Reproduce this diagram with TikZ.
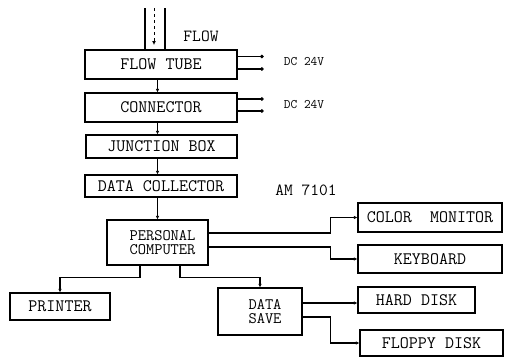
\documentclass[tikz,border=0pt]{standalone}
\usepackage{fontspec}
\usetikzlibrary{arrows.meta}
\tikzset{
  box/.style={draw, line width=1.2pt, rectangle, inner sep=0pt, font=\ttfamily\fontsize{17.5}{17.5}\selectfont},
  twoline/.style={box, align=center, font=\ttfamily\fontsize{16}{14.5}\selectfont},
  conn/.style={line width=1.2pt, -{Latex[length=3.5pt,width=3.5pt]}},
  plain/.style={line width=1.2pt},
  dcline/.style={line width=1.1pt, -{Circle[length=3.5pt]}},
  lbl/.style={inner sep=0pt, font=\ttfamily\fontsize{13}{13}\selectfont},
  biglbl/.style={inner sep=0pt, font=\ttfamily\fontsize{17}{17}\selectfont}
}
\begin{document}
\begin{tikzpicture}[x=1pt,y=-1pt]
\useasboundingbox (0,0) rectangle (506,357);
% boxes
\node[box, minimum width=152pt, minimum height=29pt] (tube) at (161,64.5) {FLOW TUBE};
\node[box, minimum width=152pt, minimum height=29pt] (cnn) at (161,107.5) {CONNECTOR};
\node[box, minimum width=151pt, minimum height=23pt] (junc) at (161.5,146.5) {JUNCTION BOX};
\node[box, minimum width=152pt, minimum height=22pt] (coll) at (161,186) {DATA COLLECTOR};
\node[twoline, minimum width=101pt, minimum height=45pt] (pc) at (157.5,242.5) {\hspace*{10pt}PERSONAL\\\hspace*{10pt}COMPUTER};
\node[box, minimum width=144pt, minimum height=29pt] (mon) at (430,217.5) {COLOR\ \ MONITOR};
\node[box, minimum width=144pt, minimum height=28pt] (key) at (430,259) {KEYBOARD};
\node[box, minimum width=100pt, minimum height=27pt] (prn) at (60,306.5) {PRINTER};
\node[twoline, minimum width=84pt, minimum height=47pt] (save) at (260,311.5) {\hspace*{10pt}DATA\\\hspace*{10pt}SAVE};
\node[box, minimum width=117pt, minimum height=26pt] (hard) at (416.5,300) {HARD DISK};
\node[box, minimum width=143pt, minimum height=26pt] (flop) at (431.5,343) {FLOPPY DISK};
% labels
\node[biglbl] (flowlbl) at (201,36.5) {FLOW};
\node[lbl] (dc1) at (304,62) {DC 24V};
\node[lbl] (dc2) at (304,105) {DC 24V};
\node[biglbl] (am) at (306,190) {AM 7101};
% flow lines
\coordinate (f1) at (145,8);
\coordinate (f2) at (154,8);
\coordinate (f2e) at (154,45);
\coordinate (f3) at (165,8);
\draw[plain] (f1) -- (f1 |- tube.north);
\draw[plain] (f3) -- (f3 |- tube.north);
\draw[line width=1pt, dashed, -{Latex[length=4pt,width=4pt]}] (f2) -- (f2e);
% DC outputs
\draw[dcline] ([yshift=8pt]tube.east) -- ++(26,0);
\draw[dcline] ([yshift=-4.5pt]tube.east) -- ++(26,0);
\draw[dcline] ([yshift=8.5pt]cnn.east) -- ++(26,0);
\draw[dcline] ([yshift=-3.5pt]cnn.east) -- ++(26,0);
% main chain
\draw[conn] (tube.south -| pc) -- (cnn.north -| pc);
\draw[conn] (cnn.south -| pc) -- (junc.north -| pc);
\draw[conn] (junc.south -| pc) -- (coll.north -| pc);
\draw[conn] (coll.south -| pc) -- (pc.north);
% pc outputs
\draw[conn] ([yshift=9.5pt]pc.east) -- ++(122,0) |- (mon.west);
\draw[conn] ([yshift=-4.5pt]pc.east) -- ++(122,0) |- (key.west);
\draw[conn] ([xshift=-17.5pt]pc.south) -- ++(0,12) -| (prn.north);
\draw[conn] ([xshift=22.5pt]pc.south) -- ++(0,12) -| (save.north);
% data save outputs
\draw[conn] ([yshift=8.5pt]save.east) coordinate (s1) -- (s1 -| hard.west);
\draw[conn] ([yshift=-5.5pt]save.east) -- ++(28,0) |- (flop.west);
\end{tikzpicture}
\end{document}
